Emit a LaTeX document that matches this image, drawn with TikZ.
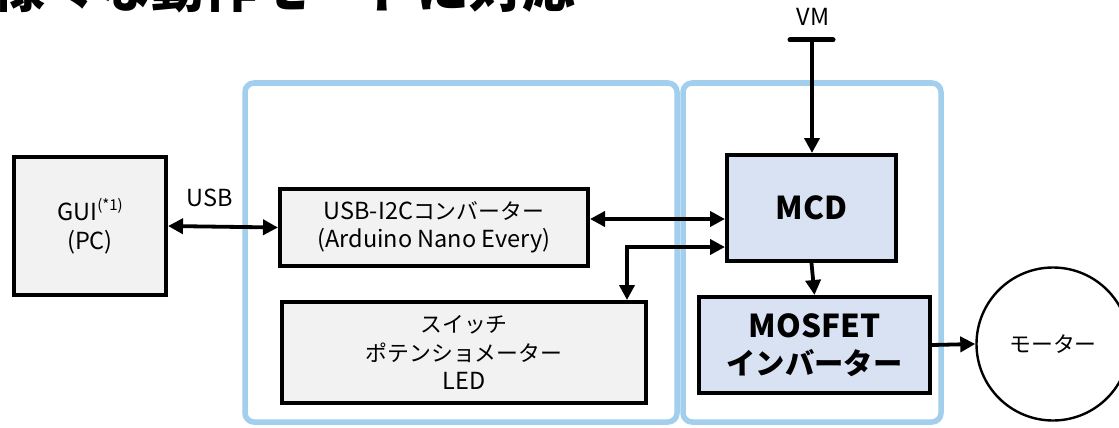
\documentclass[tikz,border=0pt]{standalone}
\usepackage{fontspec}
\setmainfont{Noto Sans CJK JP}
\newfontfamily\jpfont{Noto Sans CJK JP}[Scale=0.93]
\usetikzlibrary{arrows.meta}
\definecolor{boxgray}{HTML}{F2F2F2}
\definecolor{mcdblue}{HTML}{D9E2F3}
\definecolor{contblue}{HTML}{A3CFEE}
\begin{document}
\begin{tikzpicture}[x=1pt,y=-1pt,
  >={Triangle[length=15pt,width=15pt]},
  container/.style={draw=contblue, line width=5.5pt, rounded corners=9pt},
  box/.style={draw=black, line width=4pt, fill=boxgray, inner sep=0pt, align=center,
    font=\fontsize{23.5}{28.5}\selectfont},
  bluebox/.style={box, fill=mcdblue, font=\fontsize{31.5}{37}\selectfont\bfseries},
  conn/.style={line width=3.8pt, draw=black},
  lbl/.style={inner sep=0pt, font=\fontsize{23.5}{28.5}\selectfont}]
\useasboundingbox (0,0) rectangle (1119,428);
\fill[white] (0,0) rectangle (1119,428);
% title (clipped at the top of the picture)
\node[anchor=base west, inner sep=0pt, font=\fontsize{53}{53}\selectfont\bfseries] (title) at (-8,8) {様々な動作モードに対応};
% containers
\draw[container] (245,83) rectangle (677,422);
\draw[container] (683,83) rectangle (941,422);
% boxes
\node[box, minimum width=152pt, minimum height=138pt] (gui) at (90,226)
  {GUI\raisebox{0.45em}{\fontsize{15}{15}\selectfont(*1)}\\(PC)};
\node[box, minimum width=308pt, minimum height=77pt] (conv) at (434,227.5)
  {USB-I2C{\jpfont コンバーター}\\(Arduino Nano Every)};
\node[box, minimum width=364pt, minimum height=101pt] (sw) at (464,352.5)
  {{\jpfont スイッチ}\\{\jpfont ポテンショメーター}\\LED};
\node[bluebox, minimum width=169pt, minimum height=106pt] (mcd) at (811.5,208) {MCD};
\node[bluebox, minimum width=231pt, minimum height=96pt] (fet) at (814.5,345)
  {MOSFET\\{\jpfont\bfseries インバーター}};
\node[draw=black, line width=2.4pt, circle, minimum size=153pt, inner sep=0pt,
  font=\fontsize{23.5}{23.5}\selectfont] (motor) at (1053,344) {{\jpfont モーター}};
% labels
\node[lbl] (usb) at (210,198) {USB};
\node[lbl] (vm) at (813,17) {VM};
% VM bar
\coordinate (vmL) at (790,40);
\coordinate (vmR) at (833,40);
\coordinate (vmC) at (812,40);
\draw[line width=5pt, line cap=round] (vmL) -- (vmR);
% connectors
\coordinate (y219) at (0,219);
\coordinate (bend) at (627,247);
\draw[conn, <->] (gui.east) -- (conv.west);
\draw[conn, <->] (conv.east |- y219) -- (mcd.west |- y219);
\draw[conn, <->] (sw.north -| bend) -- (bend) -- (mcd.west |- bend);
\draw[conn, ->] (vmC) -- (vmC |- mcd.north);
\draw[conn, ->] (mcd.south) -- (fet.north);
\draw[conn, ->] (fet.east) -- (motor.west);
\end{tikzpicture}
\end{document}
